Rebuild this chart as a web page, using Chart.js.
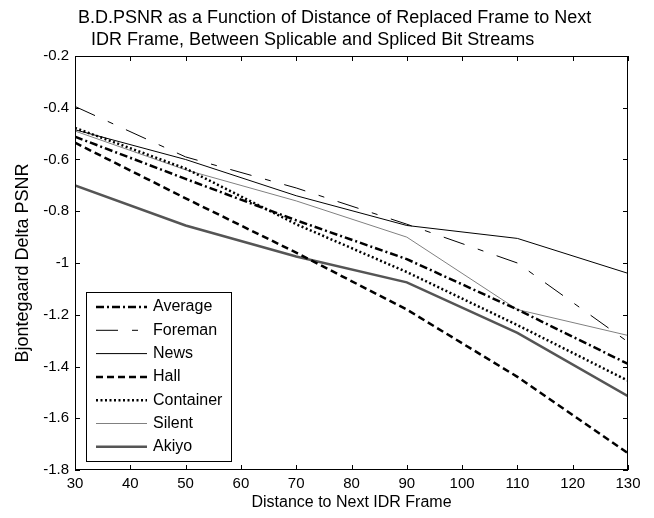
<!DOCTYPE html>
<html>
<head>
<meta charset="utf-8">
<script src="https://cdn.jsdelivr.net/npm/chart.js@4"></script>
<style>
  body { margin: 0; background: #fff; }
  #wrap { width: 654px; height: 518px; position: relative; }
</style>
</head>
<body>
<div id="wrap"><canvas id="myChart"></canvas></div>
<script>
// distance of the replaced frame to the next IDR frame
var distances = [30, 50, 70, 90, 110, 130];

// Bjontegaard delta PSNR for each sequence
var average   = [-0.512, -0.675, -0.835, -0.985, -1.18, -1.39];
var foreman   = [-0.395, -0.59, -0.71, -0.85, -1.0, -1.305];
var news      = [-0.485, -0.60, -0.74, -0.855, -0.905, -1.04];
var hall      = [-0.535, -0.75, -0.96, -1.18, -1.44, -1.735];
var container = [-0.478, -0.635, -0.85, -1.035, -1.24, -1.455];
var silent    = [-0.49, -0.64, -0.76, -0.90, -1.18, -1.28];
var akiyo     = [-0.70, -0.855, -0.975, -1.075, -1.27, -1.515];

var titleLines = [
  'B.D.PSNR as a Function of Distance of Replaced Frame to Next',
  'IDR Frame, Between Splicable and Spliced Bit Streams'
];

var FONT = '"Liberation Sans", Arial, sans-serif';

function pts(ys) {
  return distances.map(function (x, i) { return { x: x, y: ys[i] }; });
}

function ds(label, ys, color, width, dash) {
  return {
    label: label,
    data: pts(ys),
    borderColor: color,
    backgroundColor: color,
    borderWidth: width,
    borderDash: dash,
    pointRadius: 0,
    tension: 0,
    fill: false
  };
}

// box, inward ticks, title and legend like the original figure
var figurePlugin = {
  id: 'figure',
  afterDatasetsDraw: function (chart) {
    var c = chart.ctx;
    var a = chart.chartArea;
    var xs = chart.scales.x, ys = chart.scales.y;
    c.save();
    c.strokeStyle = '#000';
    c.lineWidth = 1;
    c.setLineDash([]);
    c.strokeRect(a.left + 0.5, a.top + 0.5, a.right - a.left - 1, a.bottom - a.top - 1);
    c.beginPath();
    xs.ticks.forEach(function (t) {
      var px = Math.round(xs.getPixelForValue(t.value)) + 0.5;
      c.moveTo(px, a.bottom); c.lineTo(px, a.bottom - 5);
      c.moveTo(px, a.top); c.lineTo(px, a.top + 5);
    });
    ys.ticks.forEach(function (t) {
      var py = Math.round(ys.getPixelForValue(t.value)) + 0.5;
      c.moveTo(a.left, py); c.lineTo(a.left + 5, py);
      c.moveTo(a.right, py); c.lineTo(a.right - 5, py);
    });
    c.stroke();

    // legend
    var lx = 86, ly = 292, lw = 145, lh = 169;
    c.fillStyle = '#fff';
    c.fillRect(lx, ly, lw, lh);
    c.strokeRect(lx + 0.5, ly + 0.5, lw, lh);
    c.font = '16px ' + FONT;
    c.textBaseline = 'middle';
    c.textAlign = 'left';
    chart.data.datasets.forEach(function (d, i) {
      var y = ly + 15 + i * 23.3;
      c.beginPath();
      c.strokeStyle = d.borderColor;
      c.lineWidth = d.borderWidth;
      c.setLineDash(d.borderDash || []);
      c.moveTo(96, y); c.lineTo(147, y);
      c.stroke();
      c.fillStyle = '#000';
      c.fillText(d.label, 153, y);
    });

    // title
    c.font = '18px ' + FONT;
    c.textBaseline = 'alphabetic';
    c.fillText(titleLines[0], 78, 23);
    c.fillText(titleLines[1], 91, 45);
    c.restore();
  }
};

var ctx = document.getElementById('myChart').getContext('2d');
var chart = new Chart(ctx, {
  type: 'line',
  data: {
    datasets: [
      ds('Average', average, '#000', 2.5, [8, 3, 2, 3]),
      ds('Foreman', foreman, '#000', 1, [22, 14, 6, 14]),
      ds('News', news, '#000', 1, []),
      ds('Hall', hall, '#000', 2.5, [7, 4]),
      ds('Container', container, '#000', 2.5, [2, 2.5]),
      ds('Silent', silent, '#808080', 1, []),
      ds('Akiyo', akiyo, '#555', 2.5, [])
    ]
  },
  options: {
    responsive: true,
    maintainAspectRatio: false,
    animation: false,
    layout: { padding: { left: 0, right: 26, top: 56, bottom: 0 } },
    plugins: {
      legend: { display: false },
      title: { display: false },
      tooltip: { enabled: false }
    },
    scales: {
      x: {
        type: 'linear',
        min: 30,
        max: 130,
        afterFit: function (s) { s.height = 48; },
        grid: { display: false, drawTicks: false },
        border: { display: false },
        ticks: {
          stepSize: 10,
          padding: 5,
          color: '#000',
          maxRotation: 0,
          font: { family: FONT, size: 15 }
        },
        title: {
          display: true,
          text: 'Distance to Next IDR Frame',
          color: '#000',
          padding: { top: 0, bottom: 6 },
          font: { family: FONT, size: 16 }
        }
      },
      y: {
        type: 'linear',
        min: -1.8,
        max: -0.2,
        afterFit: function (s) { s.width = 75; },
        grid: { display: false, drawTicks: false },
        border: { display: false },
        ticks: {
          stepSize: 0.2,
          padding: 6,
          color: '#000',
          font: { family: FONT, size: 15 },
          callback: function (v) { return String(Math.round(v * 10) / 10); }
        },
        title: {
          display: true,
          text: 'Bjontegaard Delta PSNR',
          color: '#000',
          padding: { top: 12, bottom: 0 },
          font: { family: FONT, size: 18 }
        }
      }
    }
  },
  plugins: [figurePlugin]
});
</script>
</body>
</html>
